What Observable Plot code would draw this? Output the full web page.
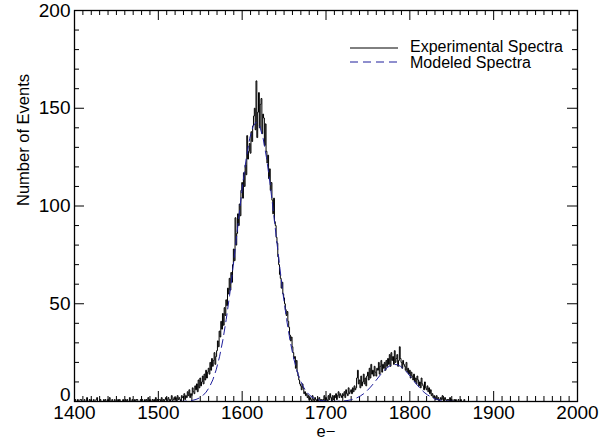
<!DOCTYPE html>
<html>
<head>
<meta charset="utf-8">
<script src="https://cdn.jsdelivr.net/npm/d3@7"></script>
<script src="https://cdn.jsdelivr.net/npm/@observablehq/plot@0.6"></script>
<style>
  body { margin: 0; background: #fff; }
  #chart svg { display: block; }
</style>
</head>
<body>
<div id="chart"></div>
<script>
// Experimental spectrum: counts per 1 e− bin, starting at binStart
const binStart = 1400;
const counts = [
  0,1,0,0,1,0,0,1,1,0,      // 1400
  0,0,1,0,0,2,0,0,1,0,      // 1410
  1,0,0,1,0,0,1,2,0,0,      // 1420
  0,1,0,0,0,1,0,1,0,0,      // 1430
  1,0,2,0,0,1,0,0,1,0,      // 1440
  0,0,1,0,1,0,0,0,1,0,      // 1450
  0,1,0,1,0,0,2,0,0,1,      // 1460
  0,0,1,0,1,1,0,0,0,1,      // 1470
  0,1,0,0,1,0,1,0,2,0,      // 1480
  1,0,0,1,0,1,0,2,0,1,      // 1490
  0,1,1,0,2,0,1,0,1,2,      // 1500
  1,0,2,1,0,1,3,0,1,2,      // 1510
  1,2,0,3,1,2,1,0,3,2,      // 1520
  2,4,1,3,2,5,3,6,2,4,      // 1530
  3,7,5,4,8,6,9,5,11,7,     // 1540
  12,8,10,13,9,14,11,16,12,15,        // 1550
  17,14,20,16,22,18,21,25,19,23,      // 1560
  26,31,28,36,33,41,37,45,39,48,      // 1570
  44,52,49,58,55,63,57,66,61,70,      // 1580
  78,72,94,80,86,96,90,101,95,108,    // 1590
  112,104,117,110,121,116,136,124,128,132, // 1600
  127,138,133,141,146,150,139,164,135,148, // 1610
  158,140,152,155,137,147,145,131,142,128, // 1620
  122,126,114,119,108,112,103,96,104,92,   // 1630
  90,84,81,74,70,65,63,58,61,55,      // 1640
  53,50,47,44,46,41,38,34,31,33,      // 1650
  28,25,22,23,17,21,15,13,11,9,       // 1660
  8,6,9,7,4,5,3,4,2,3,      // 1670
  1,2,1,0,3,1,0,2,1,0,      // 1680
  1,0,2,1,0,1,0,1,3,0,      // 1690
  2,1,0,3,1,4,2,0,3,1,      // 1700
  3,2,4,1,3,5,2,4,3,2,      // 1710
  4,3,5,2,6,4,3,7,4,5,      // 1720
  6,4,7,5,8,6,7,12,16,9,    // 1730
  11,7,13,8,10,14,9,12,8,13,          // 1740
  15,11,17,12,19,14,16,13,18,15,      // 1750
  13,17,16,20,14,18,21,15,19,17,      // 1760
  20,16,21,18,22,19,24,18,25,21,      // 1770
  23,19,26,20,22,24,18,21,28,22,      // 1780
  20,17,21,19,18,16,20,15,17,14,      // 1790
  16,12,15,13,11,14,10,12,9,13,       // 1800
  11,8,10,7,12,9,8,6,10,7,  // 1810
  6,8,5,7,4,6,3,4,2,3,      // 1820
  2,1,3,1,2,0,1,2,1,3,      // 1830
  1,0,2,1,0,1,1,0,2,0,      // 1840
  1,0,0,1,0,1,0,0,1,0,      // 1850
  0,1,0,0,0,1,0,0,0,0       // 1860
];

// Modeled spectrum, sampled every 4 e− across both peaks
const modelE = [1400, ...d3.range(1497, 1866, 4), 2000];
const modelCounts = [
  0,
  0, 0, 0, 0, 0.01, 0.01, 0.02, 0.05, 0.1, 0.18,
  0.34, 0.61, 1.06, 1.8, 3.0, 4.8, 7.4, 11.1, 16.2, 22.9,
  31.5, 42.0, 54.3, 68.2, 83.0, 98.0, 112.3, 124.8, 134.6, 140.8,
  143.0, 140.8, 134.6, 124.8, 112.3, 98.0, 83.0, 68.2, 54.3, 42.0,
  31.5, 22.9, 16.2, 11.1, 7.4, 4.8, 3.0, 1.8, 1.06, 0.61,
  0.35, 0.19, 0.12, 0.09, 0.11, 0.17, 0.28, 0.48, 0.79, 1.25,
  1.91, 2.82, 4.02, 5.53, 7.32, 9.35, 11.52, 13.69, 15.69, 17.33,
  18.47, 18.98, 18.81, 17.97, 16.56, 14.72, 12.63, 10.44, 8.33, 6.39,
  4.72, 3.39, 2.34, 1.55, 0.99, 0.61, 0.37, 0.21, 0.12, 0.06,
  0.03, 0.02, 0.01,
  0
];

// Axis ticks
const xMajor = [1400, 1500, 1600, 1700, 1800, 1900, 2000];
const yMajor = [0, 50, 100, 150, 200];
const xMinor = d3.range(1400, 2001, 10);
const yMinor = d3.range(0, 201, 10);

const legendLabels = ["Experimental Spectra", "Modeled Spectra"];
const xTitle = "e\u2212";
const yTitle = "Number of Events";

const W = 608, H = 444;
const mL = 74, mR = 31, mT = 10, mB = 43;
const innerW = W - mL - mR, innerH = H - mT - mB;
const majorLen = 10, minorLen = 5;
const FONT = "'Liberation Sans', Arial, Helvetica, sans-serif";
const MODEL_COLOR = "#1f1f9c";
const MODEL_DASH = "8,5";

const experimental = counts.map((n, i) => ({e: binStart + i, n}));
const model = modelE.map((e, i) => ({e, n: modelCounts[i]}));

const isMajorX = d => xMajor.includes(d);
const isMajorY = d => yMajor.includes(d);
const minorXOnly = xMinor.filter(d => !isMajorX(d));
const minorYOnly = yMinor.filter(d => !isMajorY(d));

const chart = Plot.plot({
  width: W,
  height: H,
  marginLeft: mL,
  marginRight: mR,
  marginTop: mT,
  marginBottom: mB,
  style: {fontFamily: FONT, background: "white", color: "black"},
  x: {domain: [1400, 2000]},
  y: {domain: [0, 200]},
  marks: [
    // inward ticks on all four sides
    Plot.tickX(xMajor, {x: d => d, insetTop: innerH - majorLen, stroke: "black"}),
    Plot.tickX(xMajor, {x: d => d, insetBottom: innerH - majorLen, stroke: "black"}),
    Plot.tickX(minorXOnly, {x: d => d, insetTop: innerH - minorLen, stroke: "black"}),
    Plot.tickX(minorXOnly, {x: d => d, insetBottom: innerH - minorLen, stroke: "black"}),
    Plot.tickY(yMajor, {y: d => d, insetRight: innerW - majorLen, stroke: "black"}),
    Plot.tickY(yMajor, {y: d => d, insetLeft: innerW - majorLen, stroke: "black"}),
    Plot.tickY(minorYOnly, {y: d => d, insetRight: innerW - minorLen, stroke: "black"}),
    Plot.tickY(minorYOnly, {y: d => d, insetLeft: innerW - minorLen, stroke: "black"}),

    // histogram-style experimental spectrum
    Plot.line(experimental, {x: "e", y: "n", curve: "step", stroke: "black", strokeWidth: 1}),
    // modeled spectrum
    Plot.line(model, {x: "e", y: "n", stroke: MODEL_COLOR, strokeWidth: 1, strokeDasharray: MODEL_DASH}),

    Plot.frame({stroke: "black", strokeWidth: 1.3}),

    Plot.axisX(xMajor, {tickSize: 0, tickPadding: 4, fontSize: 19, label: null, tickFormat: d => String(d)}),
    // the zero label sits a little above its tick so it clears the x labels
    Plot.axisY(yMajor.filter(d => d !== 0), {tickSize: 0, tickPadding: 4, fontSize: 19, label: null, tickFormat: d => String(d)}),
    Plot.axisY([0], {tickSize: 0, tickPadding: 4, fontSize: 19, label: null, dy: -7, tickFormat: d => String(d)}),

    Plot.text([xTitle], {frameAnchor: "bottom", dy: 35, fontSize: 16.5, fill: "black"}),
    Plot.text([yTitle], {frameAnchor: "left", dx: -51, rotate: -90, fontSize: 16.5, fill: "black"})
  ]
});

// legend in the upper right of the plot area
const svg = d3.select(chart);
const leg = svg.append("g")
  .attr("font-family", FONT)
  .attr("font-size", 16)
  .attr("text-anchor", "start");
const legendRows = [
  {label: legendLabels[0], y: 48, base: 52, stroke: "black", dash: null},
  {label: legendLabels[1], y: 62, base: 68, stroke: MODEL_COLOR, dash: MODEL_DASH}
];
legendRows.forEach(r => {
  leg.append("line")
    .attr("x1", 350).attr("x2", 398)
    .attr("y1", r.y).attr("y2", r.y)
    .attr("stroke", r.stroke).attr("stroke-width", 1)
    .attr("stroke-dasharray", r.dash);
  leg.append("text")
    .attr("x", 410).attr("y", r.base)
    .attr("text-anchor", "start")
    .attr("fill", "black")
    .text(r.label);
});

document.getElementById("chart").appendChild(chart);
</script>
</body>
</html>
